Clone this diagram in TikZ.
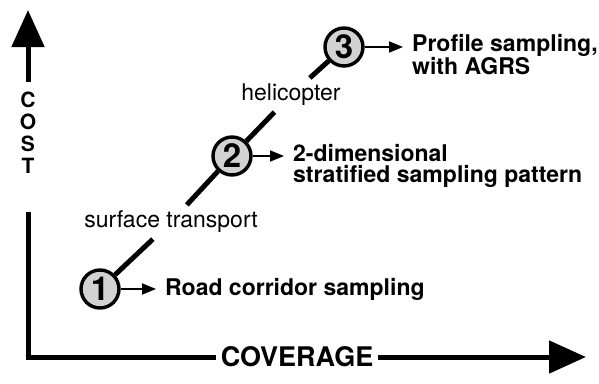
\documentclass[tikz,border=0pt]{standalone}
\usepackage{fontspec}
\setmainfont{TeX Gyre Heros}
\usepackage{tikz}
\usetikzlibrary{arrows.meta,positioning,calc}

\begin{document}
\begin{tikzpicture}[x=1pt,y=-1pt,
  num/.style={circle,draw=black,line width=3.4pt,fill=gray!35,minimum size=38pt,
    inner sep=0pt,font=\bfseries\fontsize{33}{33}\selectfont},
  lab/.style={inner sep=0pt,align=left,font=\bfseries\fontsize{23}{21}\selectfont},
  mode/.style={inner sep=6pt,font=\fontsize{23}{23}\selectfont},
  ax/.style={line width=5pt},
  big/.style={ax,-{Triangle[length=37pt,width=32pt]}},
  pt/.style={line width=1.8pt,-{Triangle[length=14pt,width=11pt]},shorten >=9pt}]
  \useasboundingbox (0,0) rectangle (599,383);
  % axes
  \coordinate (o) at (28,357);
  \coordinate (ylow) at (28,212);
  \coordinate (yshaft) at (28,82);
  \coordinate (ytop) at (28,10);
  \coordinate (xend) at (586,357);
  \node[align=center,inner sep=0pt,font=\bfseries\fontsize{21}{22}\selectfont] (cost) at (28,133) {C\\O\\S\\T};
  \node[inner sep=5pt,font=\bfseries\fontsize{27}{27}\selectfont] (cov) at (297,357) {COVERAGE};
  \draw[ax] (o)--(ylow);
  \draw[big] (yshaft)--(ytop);
  \draw[ax] ([xshift=-2.5pt]o)--(cov);
  \draw[big] (cov)--(xend);
  % options along the cost line
  \node[num] (c1) at (100,289) {1};
  \node[num] (c2) at (232,156) {2};
  \node[num] (c3) at (344,47) {3};
  \node[mode] (st) at (171,222) {surface transport};
  \node[mode] (heli) at (291,95) {helicopter};
  \draw[ax] (c1)--(st)--(c2)--(heli)--(c3);
  \node[lab,anchor=west] (r1) at (165,289) {Road corridor sampling};
  \node[lab,anchor=north west] (r2) at (293,144) {2-dimensional\\stratified sampling pattern};
  \node[lab,anchor=north west] (r3) at (412,34) {Profile sampling,\\with AGRS};
  \draw[pt] (c1)--(c1 -| r1.west);
  \draw[pt] (c2)--(c2 -| r2.west);
  \draw[pt] (c3)--(c3 -| r3.west);
\end{tikzpicture}
\end{document}
